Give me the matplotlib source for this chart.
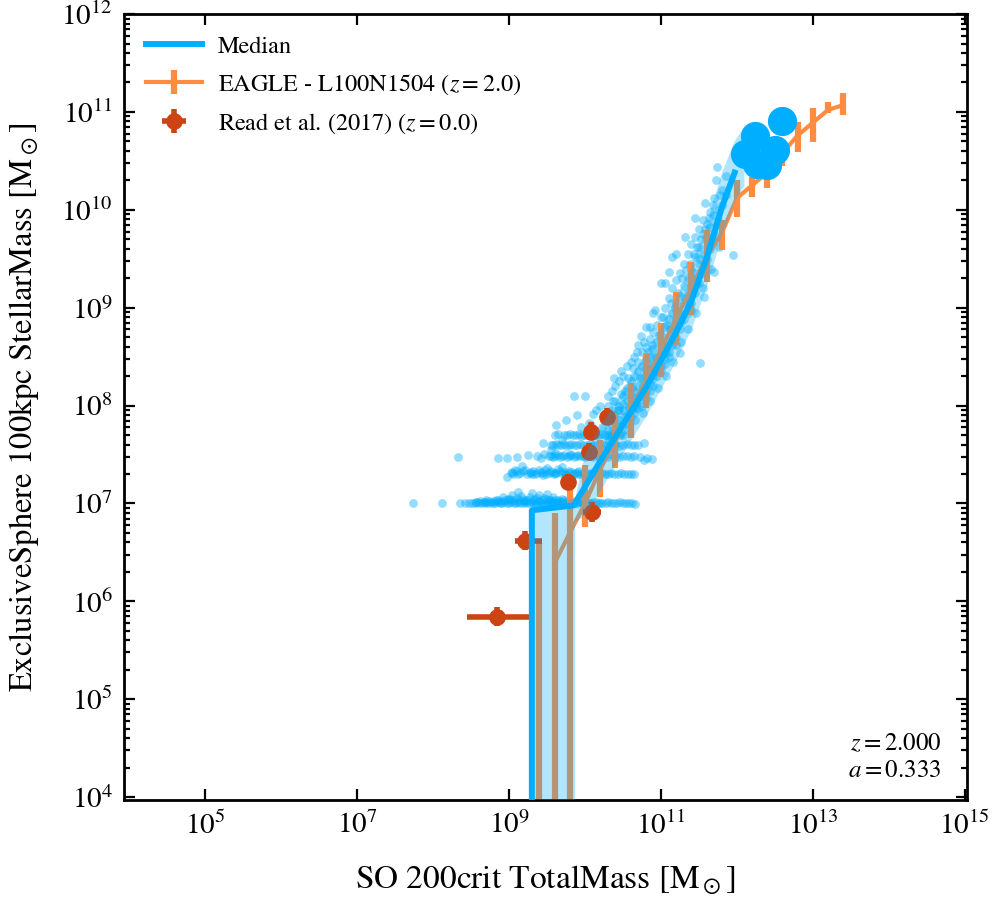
import numpy as np
import matplotlib
matplotlib.use('Agg')
import matplotlib.pyplot as plt
from matplotlib.ticker import NullLocator, NullFormatter, FixedLocator

plt.rcParams['font.family'] = ['STIXGeneral', 'Liberation Serif', 'DejaVu Serif']
plt.rcParams['mathtext.fontset'] = 'stix'

BLUE = '#00AEFF'
ORANGE = '#FF8C40'
RED = '#CC4414'

# ---- data (all values in log10 Msun) ----
# median line of the simulation and its 16-84 band
median_logm200 = [9.30, 9.30, 9.85, 10.00, 10.20, 10.40, 10.60, 10.80, 11.00,
                  11.20, 11.40, 11.60, 11.80, 11.97]
median_logmstar = [-1.0, 6.93, 6.98, 7.17, 7.43, 7.68, 7.93, 8.18, 8.46,
                   8.75, 9.07, 9.50, 10.02, 10.38]

band_logm200 = [9.30, 9.87, 9.87, 10.00, 10.20, 10.40, 10.60, 10.80, 11.00,
                11.20, 11.40, 11.60, 11.80, 11.97, 12.10]
band_lo = [-1.0, -1.0, 6.80, 6.88, 7.12, 7.38, 7.63, 7.88, 8.16,
           8.45, 8.77, 9.20, 9.72, 10.08, 10.25]
band_hi = [7.00, 7.05, 7.05, 7.50, 7.78, 8.03, 8.28, 8.53, 8.81,
           9.10, 9.42, 9.85, 10.37, 10.70, 10.85]

# individual haloes above the last bin
halo_logm200 = [12.59, 12.24, 12.11, 12.50, 12.39, 12.26]
halo_logmstar = [10.91, 10.75, 10.57, 10.61, 10.46, 10.47]

# EAGLE L100N1504 z=2 relation (first bin has no median)
eagle_logm200 = [9.4, 9.6, 9.8, 10.0, 10.2, 10.4, 10.6, 10.8, 11.0, 11.2, 11.4,
                 11.6, 11.8, 12.0, 12.2, 12.4, 12.6, 12.8, 13.0, 13.2, 13.4]
eagle_logmstar = [np.nan, 6.39, 6.70, 7.00, 7.35, 7.64, 7.95, 8.26, 8.57, 8.89, 9.20,
                  9.52, 9.76, 10.12, 10.25, 10.38, 10.58, 10.76, 10.89, 11.02, 11.07]
eagle_lo = [-1.0, -1.0, -1.0, 6.76, 7.07, 7.36, 7.67, 7.98, 8.29, 8.62, 8.93,
            9.26, 9.59, 9.93, 10.13, 10.22, 10.45, 10.59, 10.69, 10.99, 10.97]
eagle_hi = [6.60, 6.90, 7.16, 7.39, 7.65, 7.92, 8.23, 8.54, 8.84, 9.16, 9.47,
            9.79, 9.90, 10.30, 10.34, 10.52, 10.70, 10.90, 11.04, 11.10, 11.19]

# Read et al. (2017) dwarfs
read_logm200 = [10.29, 10.08, 10.05, 9.78, 10.09, 9.21, 8.84]
read_logmstar = [7.88, 7.73, 7.53, 7.22, 6.91, 6.62, 5.84]
read_m200_lo = [10.24, 10.03, 10.00, 9.73, 9.97, 9.08, 8.44]
read_m200_hi = [10.34, 10.13, 10.10, 9.83, 10.21, 9.43, 9.28]
read_mstar_lo = [7.80, 7.65, 7.45, 7.15, 6.81, 6.52, 5.75]
read_mstar_hi = [7.98, 7.83, 7.62, 7.30, 7.01, 6.72, 5.94]

# individual galaxies, (logM200, logMstar)
stripe_1p = [(7.74, 7.00), (8.12, 7.00), (8.36, 7.00), (8.42, 7.00), (8.47, 7.00),
             (8.51, 7.00), (8.55, 7.00), (8.58, 7.01), (8.61, 7.00), (8.64, 7.00),
             (8.67, 7.01), (8.70, 7.00), (8.73, 7.00), (8.76, 7.01), (8.79, 7.00),
             (8.82, 7.00), (8.85, 7.01), (8.88, 7.00), (8.91, 7.00), (8.94, 7.01),
             (8.97, 7.00), (9.00, 7.00), (9.03, 7.01), (9.06, 7.00), (9.09, 7.00),
             (9.12, 7.01), (9.15, 7.00), (9.18, 7.00), (9.21, 7.01), (9.24, 7.00),
             (9.27, 7.00), (9.30, 7.01), (9.33, 7.00), (9.36, 7.00), (9.39, 7.01),
             (9.42, 7.00), (9.45, 7.00), (9.48, 7.01), (9.51, 7.00), (9.54, 7.00),
             (9.57, 7.01), (9.60, 7.00), (9.63, 7.00), (9.66, 7.01), (9.70, 7.00),
             (9.74, 7.00), (9.78, 7.01), (9.82, 7.00), (9.87, 7.00), (9.92, 7.01),
             (9.97, 7.00), (10.02, 7.00), (10.08, 7.00), (10.14, 7.01), (10.20, 7.00),
             (10.27, 7.00), (10.34, 7.00), (10.42, 7.00), (10.50, 7.00), (10.58, 7.00),
             (8.86, 7.04), (8.92, 7.07), (8.98, 7.05), (9.04, 7.09), (9.10, 7.06),
             (9.16, 7.08), (9.22, 7.04), (9.28, 7.07), (9.34, 7.05), (9.40, 7.09),
             (9.46, 7.06), (9.52, 7.04), (9.58, 7.07), (9.64, 7.03), (9.70, 7.05),
             (9.00, 7.03), (9.20, 7.02), (9.38, 7.02), (9.56, 7.02), (8.80, 7.02),
             (8.70, 7.03), (9.12, 7.12), (9.30, 7.11), (9.50, 7.10),
             (8.56, 7.01), (8.62, 7.02), (8.68, 7.01), (8.74, 7.02), (8.83, 7.03),
             (8.89, 7.02), (8.95, 7.04), (9.01, 7.05), (9.07, 7.03), (9.13, 7.04),
             (9.19, 7.05), (9.25, 7.03), (9.31, 7.04), (9.37, 7.06), (9.43, 7.03),
             (9.49, 7.05), (9.55, 7.03), (9.61, 7.04), (9.67, 7.02), (9.72, 7.03),
             (9.76, 7.02), (9.80, 7.01), (9.85, 7.02), (9.90, 7.00), (9.95, 7.01),
             (10.00, 7.01), (10.05, 7.00), (10.11, 7.01), (10.17, 7.00), (10.23, 7.00),
             (10.30, 7.01), (10.38, 7.00), (10.46, 7.01), (10.54, 7.00), (10.62, 7.00),
             (10.66, 6.99)]
stripe_2p = [(8.97, 7.27), (9.04, 7.32), (9.08, 7.34), (9.17, 7.38), (9.05, 7.30),
             (9.12, 7.30), (9.18, 7.33), (9.24, 7.30), (9.29, 7.32), (9.34, 7.30),
             (9.39, 7.34), (9.44, 7.31), (9.49, 7.30), (9.54, 7.33), (9.59, 7.30),
             (9.64, 7.35), (9.69, 7.31), (9.74, 7.30), (9.79, 7.33), (9.84, 7.30),
             (9.89, 7.32), (9.94, 7.30), (9.99, 7.31), (10.05, 7.30), (10.11, 7.32),
             (10.18, 7.30), (10.26, 7.30), (10.34, 7.31), (10.44, 7.30), (10.52, 7.30),
             (10.60, 7.30), (9.30, 7.30), (9.45, 7.29), (9.60, 7.31), (9.75, 7.29),
             (9.90, 7.30), (10.00, 7.29), (10.15, 7.31), (9.50, 7.36), (9.70, 7.37),
             (9.02, 7.31), (9.10, 7.33), (9.15, 7.31), (9.21, 7.34), (9.27, 7.31),
             (9.32, 7.33), (9.37, 7.31), (9.42, 7.32), (9.47, 7.34), (9.52, 7.31),
             (9.57, 7.32), (9.62, 7.31), (9.67, 7.33), (9.72, 7.32), (9.77, 7.31),
             (9.82, 7.32), (9.87, 7.31), (9.92, 7.33), (9.97, 7.30), (10.02, 7.31),
             (10.08, 7.30), (10.14, 7.30), (10.22, 7.31), (10.30, 7.30), (10.38, 7.30),
             (10.48, 7.31), (10.56, 7.30), (10.64, 7.30)]
stripe_3p = [(8.33, 7.47), (8.86, 7.46), (8.97, 7.46), (9.10, 7.47), (9.25, 7.49),
             (9.37, 7.48), (9.46, 7.50), (9.52, 7.48), (9.58, 7.47), (9.64, 7.49),
             (9.70, 7.48), (9.76, 7.47), (9.82, 7.49), (9.88, 7.48), (9.94, 7.48),
             (10.00, 7.47), (10.07, 7.48), (10.14, 7.49), (10.22, 7.48), (10.30, 7.47),
             (10.40, 7.48), (10.50, 7.48), (10.60, 7.47), (10.72, 7.47), (10.82, 7.46),
             (10.88, 7.45), (9.60, 7.52), (9.80, 7.51), (9.55, 7.55),
             (9.55, 7.48), (9.61, 7.48), (9.67, 7.47), (9.73, 7.49), (9.79, 7.48),
             (9.85, 7.47), (9.91, 7.49), (9.97, 7.48), (10.04, 7.49), (10.11, 7.47),
             (10.18, 7.48), (10.26, 7.48), (10.35, 7.49), (10.45, 7.47), (10.55, 7.48),
             (10.65, 7.48), (10.78, 7.44), (9.42, 7.46)]
stripe_4p = [(9.45, 7.62), (9.55, 7.60), (9.62, 7.61), (9.68, 7.60), (9.75, 7.59),
             (9.82, 7.61), (9.90, 7.60), (9.98, 7.60), (10.06, 7.61), (10.15, 7.60),
             (10.25, 7.60), (10.35, 7.60), (10.45, 7.59), (10.55, 7.61), (10.65, 7.60),
             (10.78, 7.62), (9.60, 7.70), (9.72, 7.70), (9.80, 7.71), (9.88, 7.70),
             (9.95, 7.69), (10.02, 7.70), (10.10, 7.71), (10.18, 7.70), (10.26, 7.70),
             (10.34, 7.72), (9.85, 8.10), (10.00, 8.10), (10.10, 7.91), (9.62, 7.80),
             (9.75, 7.85), (9.90, 7.90), (9.95, 7.78), (10.05, 7.82), (10.15, 7.95),
             (10.20, 8.00), (10.25, 7.55), (9.70, 7.65), (10.08, 7.80), (10.22, 7.78),
             (9.58, 7.60), (9.65, 7.60), (9.72, 7.61), (9.79, 7.60), (9.86, 7.60),
             (9.94, 7.61), (10.02, 7.60), (10.10, 7.60), (10.20, 7.61), (10.30, 7.60),
             (10.40, 7.61), (10.50, 7.60), (10.60, 7.60), (10.70, 7.60), (9.65, 7.71),
             (9.76, 7.70), (9.84, 7.70), (9.92, 7.71), (9.99, 7.70), (10.06, 7.70),
             (10.14, 7.70), (10.22, 7.71), (10.30, 7.70), (10.40, 7.70), (10.48, 7.72)]
cloud_p = [(10.30, 7.75), (10.30, 7.85), (10.30, 8.00), (10.30, 7.65), (10.30, 8.10),
           (10.35, 7.80), (10.35, 7.95), (10.35, 7.70), (10.35, 8.15),
           (10.40, 7.72), (10.40, 7.90), (10.40, 8.05), (10.40, 7.60), (10.40, 8.20),
           (10.45, 7.85), (10.45, 8.00), (10.45, 7.78), (10.45, 8.25), (10.45, 7.95),
           (10.50, 7.80), (10.50, 7.95), (10.50, 8.10), (10.50, 8.30), (10.50, 7.70),
           (10.50, 8.02), (10.55, 7.90), (10.55, 8.05), (10.55, 8.18), (10.55, 7.82),
           (10.55, 8.40), (10.60, 7.95), (10.60, 8.10), (10.60, 8.25), (10.60, 7.88),
           (10.60, 8.45), (10.60, 8.00), (10.65, 8.00), (10.65, 8.15), (10.65, 8.30),
           (10.65, 7.92), (10.65, 8.50), (10.65, 8.08), (10.70, 8.05), (10.70, 8.20),
           (10.70, 8.35), (10.70, 8.45), (10.70, 7.98), (10.70, 8.62), (10.75, 8.10),
           (10.75, 8.28), (10.75, 8.40), (10.75, 8.55), (10.75, 8.00), (10.74, 8.71),
           (10.80, 8.15), (10.80, 8.30), (10.80, 8.48), (10.80, 8.60), (10.80, 8.08),
           (10.80, 8.38), (10.85, 8.22), (10.85, 8.36), (10.85, 8.50), (10.85, 8.68),
           (10.85, 8.15), (10.85, 8.80), (10.90, 8.28), (10.90, 8.42), (10.90, 8.58),
           (10.90, 8.75), (10.90, 8.20), (10.90, 8.95), (10.95, 8.35), (10.95, 8.50),
           (10.95, 8.65), (10.95, 8.82), (10.95, 8.30), (11.00, 8.40), (11.00, 8.55),
           (11.00, 8.72), (11.00, 8.90), (11.00, 8.35), (11.00, 9.25), (11.05, 8.48),
           (11.05, 8.62), (11.05, 8.80), (11.05, 9.00), (11.05, 8.42), (11.10, 8.55),
           (11.10, 8.70), (11.10, 8.88), (11.10, 9.10), (11.10, 8.50), (11.11, 9.36),
           (11.15, 8.62), (11.15, 8.78), (11.15, 8.95), (11.15, 9.20), (11.14, 9.52),
           (11.20, 8.70), (11.20, 8.88), (11.20, 9.05), (11.20, 9.28), (11.20, 8.62),
           (11.25, 8.78), (11.25, 8.95), (11.25, 9.12), (11.25, 9.35), (11.25, 8.54),
           (11.30, 8.88), (11.30, 9.05), (11.30, 9.22), (11.30, 9.45), (11.35, 8.95),
           (11.35, 9.15), (11.35, 9.30), (11.35, 9.55), (11.40, 9.05), (11.40, 9.22),
           (11.40, 9.40), (11.40, 9.65), (11.40, 8.98), (11.45, 9.15), (11.45, 9.35),
           (11.45, 9.52), (11.45, 9.72), (11.50, 9.25), (11.50, 9.45), (11.50, 9.62),
           (11.50, 9.80), (11.51, 8.43), (11.55, 9.35), (11.55, 9.55), (11.55, 9.75),
           (11.55, 9.90), (11.60, 9.50), (11.60, 9.70), (11.60, 9.85), (11.58, 10.07),
           (11.57, 9.11), (11.65, 9.60), (11.65, 9.82), (11.65, 9.98), (11.70, 9.75),
           (11.70, 9.95), (11.70, 10.12), (11.70, 9.36), (11.75, 9.90), (11.73, 10.30),
           (11.74, 10.44), (11.80, 10.05), (11.80, 10.20), (11.85, 10.15), (11.85, 10.35),
           (11.95, 9.54)]
cloud_q = [(10.32, 7.92), (10.37, 8.05), (10.42, 7.82), (10.47, 8.12), (10.52, 7.88),
           (10.57, 8.28), (10.62, 8.18), (10.67, 7.98), (10.72, 8.28), (10.77, 8.20),
           (10.82, 8.42), (10.87, 8.30), (10.92, 8.50), (10.97, 8.42), (11.02, 8.62),
           (11.07, 8.55), (11.12, 8.78), (11.17, 8.70), (11.22, 8.95), (11.27, 8.85),
           (11.32, 9.10), (11.37, 9.05), (11.42, 9.30), (11.47, 9.25), (11.52, 9.50),
           (11.57, 9.45), (11.62, 9.62), (11.67, 9.70), (11.72, 9.85), (11.77, 10.00),
           (10.33, 7.68), (10.38, 8.28), (10.43, 7.95), (10.48, 8.35), (10.53, 8.15),
           (10.58, 7.98), (10.63, 8.38), (10.68, 8.55), (10.73, 8.12), (10.78, 8.65),
           (10.83, 8.55), (10.88, 8.62), (10.93, 8.35), (10.98, 8.72), (11.03, 8.90),
           (11.08, 8.82), (11.13, 9.05), (11.18, 9.00), (11.23, 9.15), (11.28, 9.30),
           (11.33, 9.38), (11.38, 9.45), (11.43, 9.55), (11.48, 9.62), (11.53, 9.70),
           (11.58, 9.80), (11.63, 9.92), (11.68, 10.05), (11.78, 10.15),
           (10.36, 7.60), (10.46, 7.70), (10.56, 7.75), (10.66, 7.85), (10.76, 7.92),
           (10.86, 8.05), (10.96, 8.18), (11.06, 8.30), (11.16, 8.45), (11.26, 8.65),
           (11.36, 8.78), (11.46, 8.95), (11.56, 9.20), (11.66, 9.40), (11.76, 9.62),
           (10.80, 8.80), (10.92, 8.98), (11.05, 9.25), (11.20, 9.55), (11.32, 9.72),
           (11.45, 9.92)]


def to_mass(vals):
    return 10.0 ** np.asarray(vals, dtype=float)


fig = plt.figure(figsize=(9.96, 9.0), dpi=100)
ax = fig.add_axes([0.1245, 0.1111, 0.8464, 0.8733])
ax.set_xscale('log')
ax.set_yscale('log')

# galaxies
pts = np.array(stripe_1p + stripe_2p + stripe_3p + stripe_4p + cloud_p + cloud_q)
ax.scatter(to_mass(pts[:, 0]), to_mass(pts[:, 1]), s=40, color=BLUE,
           alpha=0.42, linewidths=0, zorder=1)

# EAGLE
ex = to_mass(eagle_logm200)
ey = to_mass(eagle_logmstar)
elo = to_mass(eagle_lo)
ehi = to_mass(eagle_hi)
has_med = np.isfinite(ey)
eagle_eb = ax.errorbar(ex[has_med], ey[has_med],
                       yerr=[ey[has_med] - elo[has_med], ehi[has_med] - ey[has_med]],
                       color=ORANGE, lw=3.0, elinewidth=4.5, capsize=0, zorder=2)
ax.vlines(ex[~has_med], elo[~has_med], ehi[~has_med], color=ORANGE, lw=4.5, zorder=2)

# Read et al.
rx = to_mass(read_logm200)
ry = to_mass(read_logmstar)
read_eb = ax.errorbar(rx, ry,
                      xerr=[rx - to_mass(read_m200_lo), to_mass(read_m200_hi) - rx],
                      yerr=[ry - to_mass(read_mstar_lo), to_mass(read_mstar_hi) - ry],
                      fmt='o', color=RED, ms=11, elinewidth=4, capsize=0, zorder=3)

# median and scatter band
ax.fill_between(to_mass(band_logm200), to_mass(band_lo), to_mass(band_hi),
                color=BLUE, alpha=0.3, linewidth=0, zorder=4)
med_line, = ax.plot(to_mass(median_logm200), to_mass(median_logmstar),
                    color=BLUE, lw=4.3, zorder=5)
ax.plot(to_mass(halo_logm200), to_mass(halo_logmstar), 'o', color=BLUE,
        ms=20, zorder=6)

ax.set_xlim(10 ** 3.93, 10 ** 15.03)
ax.set_ylim(10 ** 3.97, 1e12)

ax.xaxis.set_major_locator(FixedLocator([10.0 ** k for k in range(5, 16, 2)]))
ax.xaxis.set_minor_locator(NullLocator())
ax.yaxis.set_major_locator(FixedLocator([10.0 ** k for k in range(4, 13)]))
ax.yaxis.set_minor_locator(FixedLocator([m * 10.0 ** k for k in range(3, 12)
                                         for m in range(2, 10)]))
ax.yaxis.set_minor_formatter(NullFormatter())

ax.tick_params(which='both', direction='in', top=True, right=True, width=1.6)
ax.tick_params(which='major', length=8, labelsize=21, pad=8)
ax.tick_params(which='minor', length=4.5)
for sp in ax.spines.values():
    sp.set_linewidth(2.0)

ax.set_xlabel(r'SO 200crit TotalMass $[\mathrm{M}_\odot]$', fontsize=24, labelpad=17)
ax.set_ylabel(r'ExclusiveSphere 100kpc StellarMass $[\mathrm{M}_\odot]$', fontsize=23.5,
              labelpad=15)

ax.text(0.97, 0.022, '$z=2.000$\n$a=0.333$', transform=ax.transAxes,
        ha='right', va='bottom', fontsize=18, linespacing=1.15)

ax.legend([med_line, eagle_eb, read_eb],
          ['Median', r'EAGLE - L100N1504 ($z=2.0$)', r'Read et al. (2017) ($z=0.0$)'],
          loc='upper left', frameon=False, fontsize=17.5, handlelength=2.3,
          handletextpad=0.65, labelspacing=0.6)

fig.savefig('out.png', dpi=100)
